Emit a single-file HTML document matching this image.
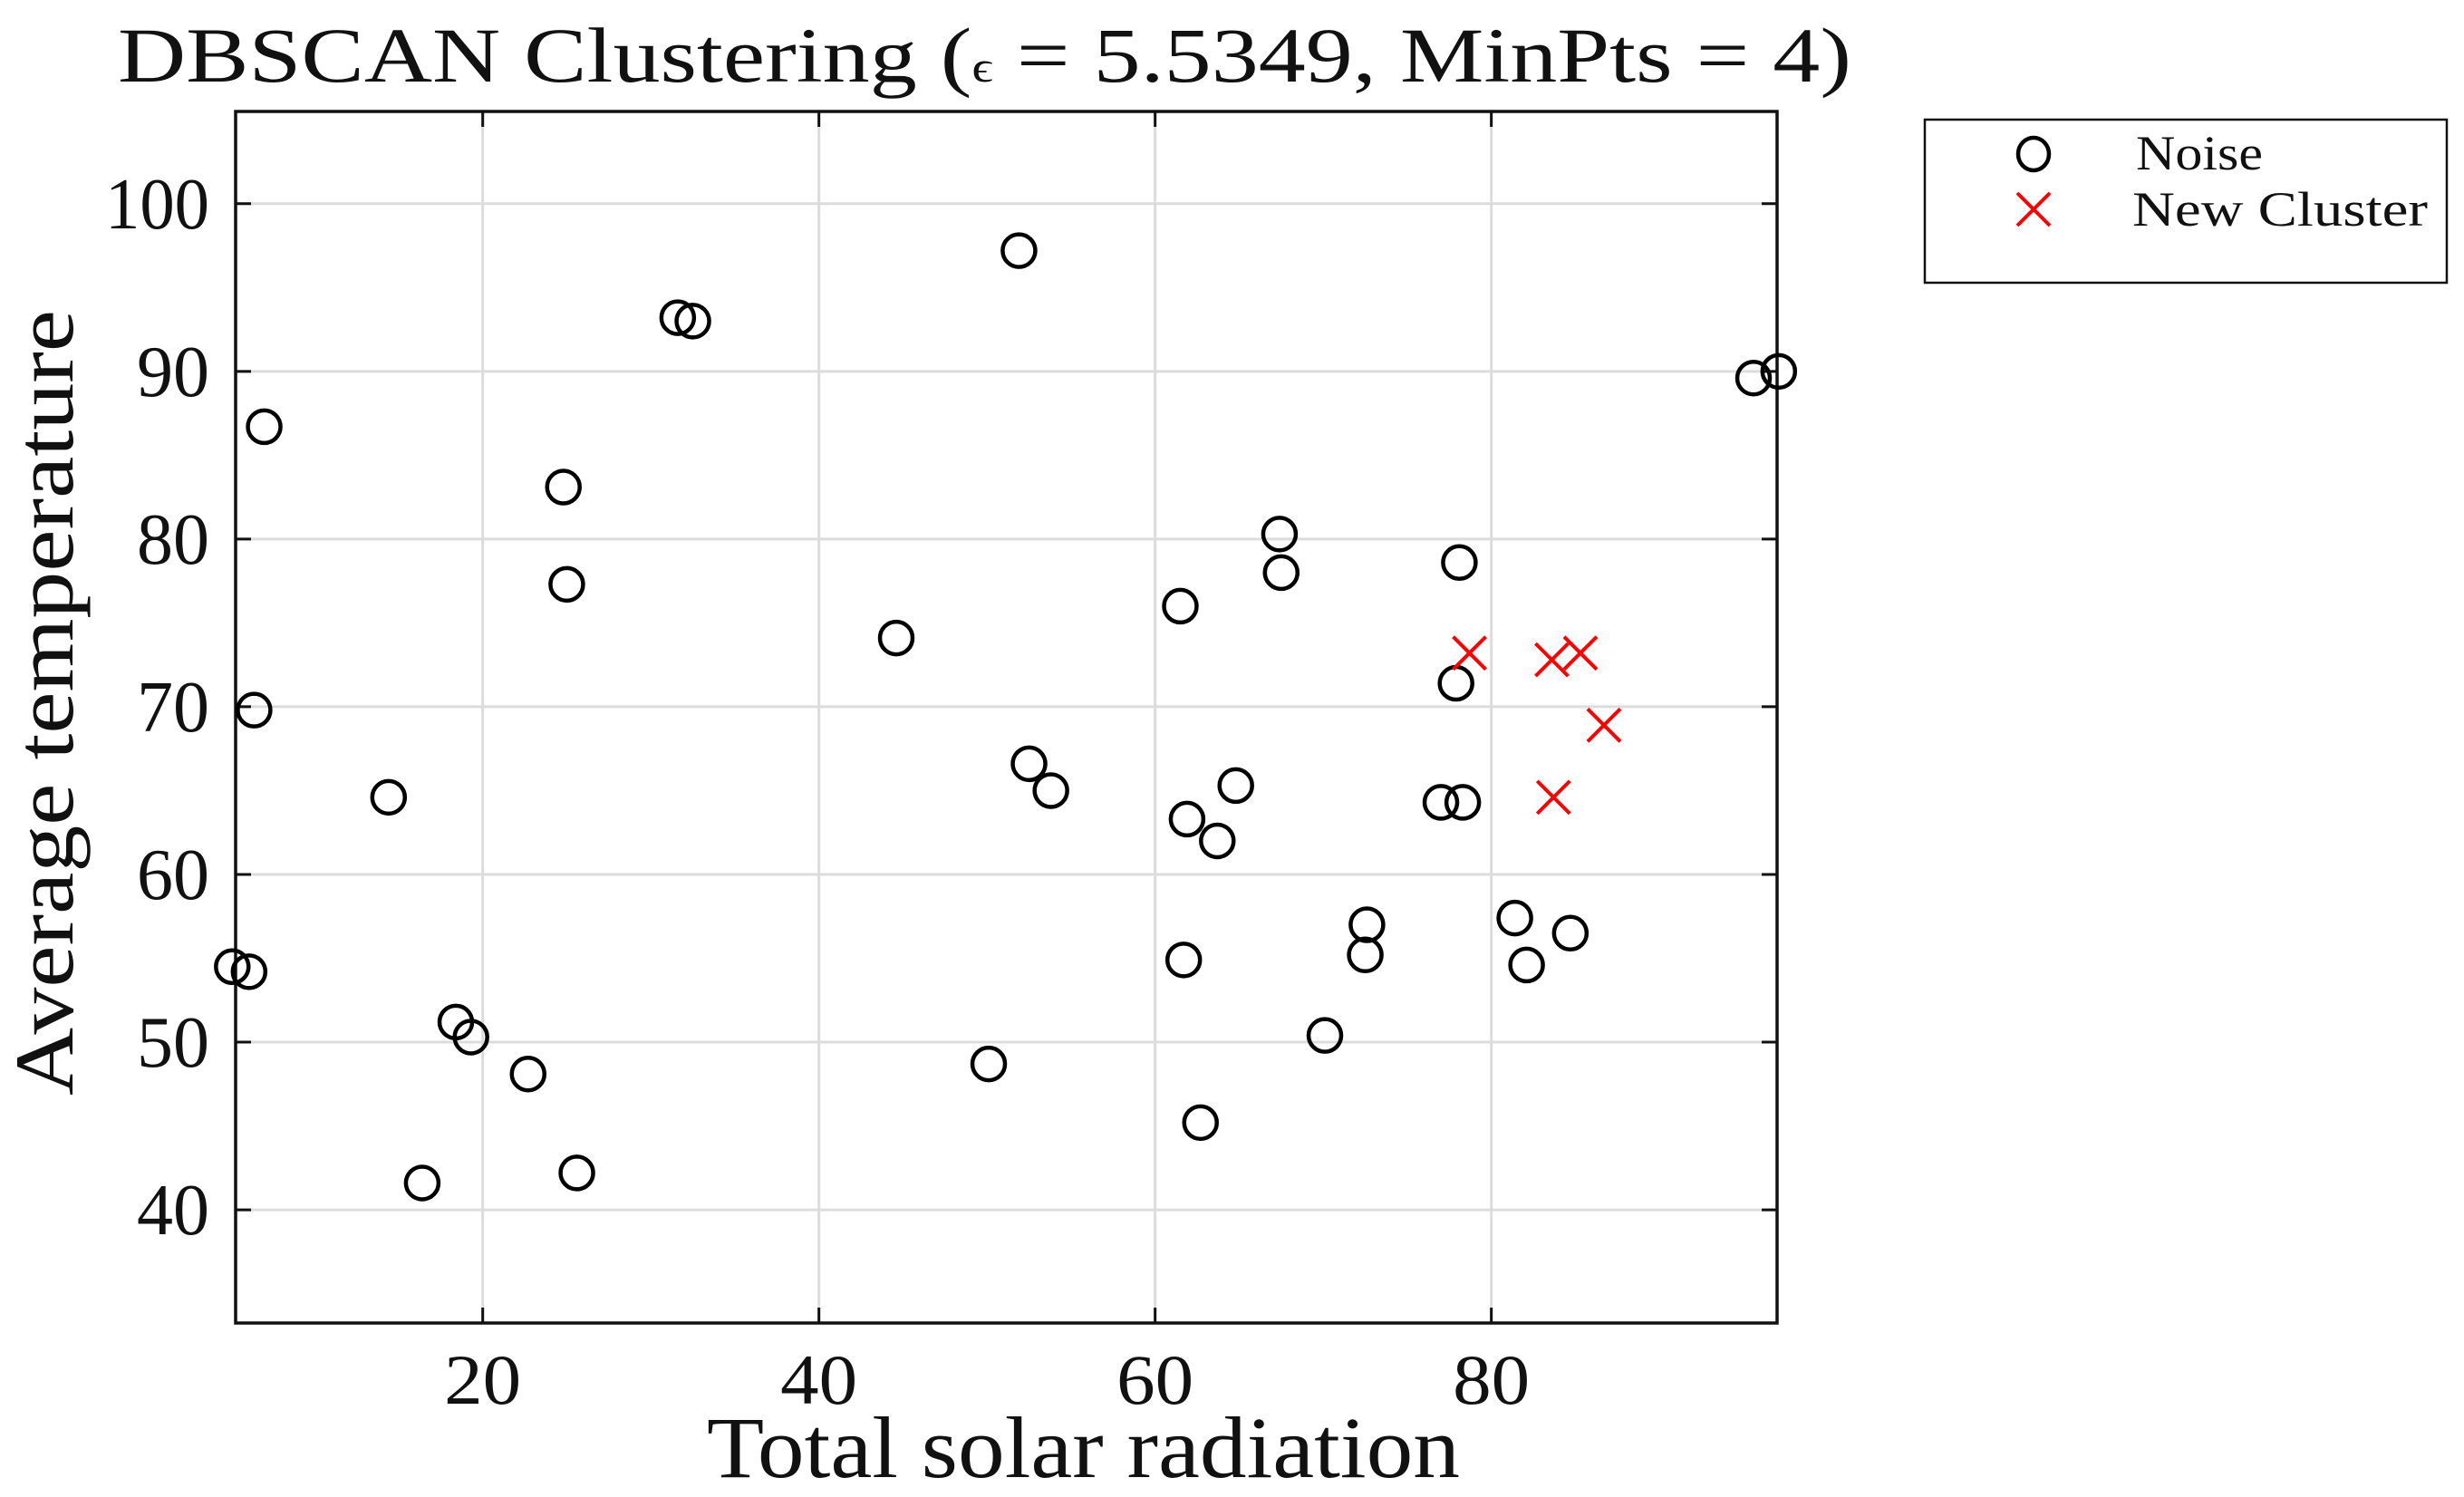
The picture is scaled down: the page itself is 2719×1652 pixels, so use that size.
<!DOCTYPE html>
<html><head><meta charset="utf-8"><style>
html,body{margin:0;padding:0;background:#fff;}
svg{display:block;}
text{font-family:"Liberation Serif",serif;fill:#111;}
</style></head><body>
<svg id="chart" width="2719" height="1652" viewBox="0 0 2719 1652" xmlns="http://www.w3.org/2000/svg">
<rect x="0" y="0" width="2719" height="1652" fill="#fff"/>
<g id="grid"></g>
<g id="ticks"></g>
<rect x="260" y="123" width="1701" height="1337" fill="none" stroke="#111" stroke-width="3.5"/>
<g id="marks"></g>
<text x="130" y="90" font-size="86" textLength="1913" lengthAdjust="spacingAndGlyphs">DBSCAN Clustering (<tspan font-size="48">ϵ</tspan> = 5.5349, MinPts = 4)</text>
<text x="780" y="1630" font-size="96" textLength="831" lengthAdjust="spacingAndGlyphs">Total solar radiation</text>
<text transform="translate(80,1209) rotate(-90)" x="0" y="0" font-size="92" textLength="867" lengthAdjust="spacingAndGlyphs">Average temperature</text>
<g>
<rect x="2124" y="132" width="576" height="180" fill="#fff" stroke="#111" stroke-width="2.5"/>
<g>
<ellipse cx="2244" cy="170" rx="17" ry="18" fill="none" stroke="#000" stroke-width="4.5"/>
<text x="2357" y="187" font-size="54" textLength="140" lengthAdjust="spacingAndGlyphs">Noise</text>
</g>
<g>
<path d="M2226 213 L2262 249 M2262 213 L2226 249" stroke="#ff0000" stroke-width="4"/>
<text x="2353" y="249" font-size="54" textLength="326" lengthAdjust="spacingAndGlyphs">New Cluster</text>
</g>
</g>
</svg>
<script>
const xTicks = [20, 40, 60, 80];
const yTicks = [40, 50, 60, 70, 80, 90, 100];
const xTickLabels = ["20", "40", "60", "80"];
const yTickLabels = ["40", "50", "60", "70", "80", "90", "100"];
const noiseX = [7.0,6.4,5.1,6.1,14.4,18.4,19.3,16.4,22.7,25.6,24.8,25.0,31.6,32.5,44.6,51.9,52.5,53.8,50.1,61.5,61.9,63.7,64.8,61.7,62.7,67.4,67.5,70.1,72.6,72.5,78.1,77.9,77.0,78.3,81.4,82.1,84.7,95.6,97.1];
const noiseY = [86.7,69.8,54.5,54.2,64.6,51.2,50.3,41.6,48.1,42.2,83.1,77.3,93.2,93.0,74.1,97.2,66.6,65.0,48.7,76.0,63.3,62.0,65.3,54.9,45.2,80.3,78.0,50.4,57.0,55.2,78.6,71.4,64.3,64.3,57.4,54.6,56.5,89.6,90.0];
const clusterX = [78.7,83.6,85.3,86.7,83.7];
const clusterY = [73.2,72.8,73.2,68.9,64.6];

const X0=260,X1=1961,Y0=123,Y1=1460;
const xMin=5.3,xMax=97.0,yMin=33.25,yMax=105.5;
function sx(v){return X0+(v-xMin)/(xMax-xMin)*(X1-X0);}
function sy(v){return Y1-(v-yMin)/(yMax-yMin)*(Y1-Y0);}
const NS="http://www.w3.org/2000/svg";
function mk(tag,attrs,parent){const e=document.createElementNS(NS,tag);for(const k in attrs)e.setAttribute(k,attrs[k]);parent.appendChild(e);return e;}
const grid=document.getElementById('grid'),ticks=document.getElementById('ticks'),marks=document.getElementById('marks'),svg=document.getElementById('chart');
xTicks.forEach((v,i)=>{
  const x=sx(v);
  const g=mk('line',{x1:x,x2:x,y1:Y0,y2:Y1,stroke:'#dcdcdc','stroke-width':3},grid);
  
  
  const t1=mk('line',{x1:x,x2:x,y1:Y1,y2:Y1-17,stroke:'#111','stroke-width':3},ticks);
  
  
  const t2=mk('line',{x1:x,x2:x,y1:Y0,y2:Y0+17,stroke:'#111','stroke-width':3},ticks);
  
  
  const l=mk('text',{x:x,y:1549,'font-size':78,'text-anchor':'middle',textLength:85,lengthAdjust:'spacingAndGlyphs'},svg);
  l.textContent=xTickLabels[i];
  
  
});
yTicks.forEach((v,i)=>{
  const y=sy(v);
  const g=mk('line',{x1:X0,x2:X1,y1:y,y2:y,stroke:'#dcdcdc','stroke-width':3},grid);
  
  
  const t1=mk('line',{x1:X0,x2:X0+17,y1:y,y2:y,stroke:'#111','stroke-width':3},ticks);
  
  
  const t2=mk('line',{x1:X1,x2:X1-17,y1:y,y2:y,stroke:'#111','stroke-width':3},ticks);
  
  
  const lab=yTickLabels[i];
  const l=mk('text',{x:231,y:y+27,'font-size':80,'text-anchor':'end',textLength:lab.length===3?115:80,lengthAdjust:'spacingAndGlyphs'},svg);
  l.textContent=lab;
  
  
});
noiseX.forEach((v,i)=>{
  const c=mk('circle',{cx:sx(v),cy:sy(noiseY[i]),r:18,fill:'none',stroke:'#000','stroke-width':4.5},marks);
  
  
});
clusterX.forEach((v,i)=>{
  const x=sx(v),y=sy(clusterY[i]),r=18;
  const p=mk('path',{d:`M${x-r} ${y-r} L${x+r} ${y+r} M${x+r} ${y-r} L${x-r} ${y+r}`,stroke:'#ff0000','stroke-width':4},marks);
  
  
});
</script>
</body></html>
